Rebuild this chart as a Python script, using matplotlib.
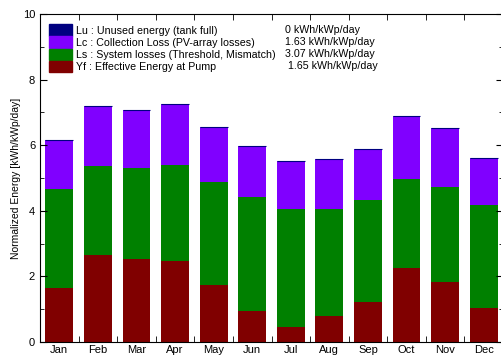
import numpy as np
import matplotlib
matplotlib.use("Agg")
import matplotlib.pyplot as plt
from matplotlib.patches import Patch
from matplotlib.ticker import MultipleLocator

plt.rcParams["font.family"] = ["Liberation Sans", "DejaVu Sans"]

months = ["Jan", "Feb", "Mar", "Apr", "May", "Jun", "Jul", "Aug", "Sep", "Oct", "Nov", "Dec"]
# stacked components, kWh/kWp/day
yf = [1.66, 2.65, 2.53, 2.47, 1.75, 0.95, 0.47, 0.80, 1.23, 2.26, 1.83, 1.04]
ls = [2.99, 2.71, 2.79, 2.92, 3.12, 3.47, 3.60, 3.25, 3.11, 2.71, 2.90, 3.14]
lc = [1.52, 1.82, 1.74, 1.88, 1.67, 1.55, 1.46, 1.52, 1.55, 1.92, 1.78, 1.44]
lu = [0.0] * 12

legend_labels = [
    "Lu : Unused energy (tank full)",
    "Lc : Collection Loss (PV-array losses)",
    "Ls : System losses (Threshold, Mismatch)",
    "Yf : Effective Energy at Pump",
]
legend_values = ["0 kWh/kWp/day", "1.63 kWh/kWp/day", "3.07 kWh/kWp/day", " 1.65 kWh/kWp/day"]

c_lu = "#000080"
c_lc = "#8000ff"
c_ls = "#008000"
c_yf = "#800000"

fig = plt.figure(figsize=(5.02, 3.56), dpi=100)
ax = fig.add_axes([40 / 502, 14 / 356, 463 / 502, 328 / 356])

x = np.arange(len(months))
w = 0.72
yf = np.array(yf)
ls = np.array(ls)
lc = np.array(lc)
lu = np.array(lu)

ax.bar(x, yf, w, color=c_yf, linewidth=0)
ax.bar(x, ls, w, bottom=yf, color=c_ls, linewidth=0)
ax.bar(x, lc, w, bottom=yf + ls, color=c_lc, linewidth=0)
# unused energy is zero: only the cap line shows
ax.bar(x, lu, w, bottom=yf + ls + lc, color=c_lu, edgecolor=c_lu, linewidth=0.8)

ax.set_xlim(-0.5, 11.5)
ax.set_ylim(0, 10)
ax.set_xticks(x)
ax.set_xticklabels(months)
ax.set_xticks(x[:-1] + 0.5, minor=True)
ax.tick_params(axis="x", which="major", length=0, labelsize=8, pad=2)
ax.tick_params(axis="x", which="minor", direction="in", length=4, top=True, bottom=True)
ax.yaxis.set_major_locator(MultipleLocator(2))
ax.yaxis.set_minor_locator(MultipleLocator(1))
ax.tick_params(axis="y", which="both", direction="in", left=True, right=True, labelsize=8)
ax.tick_params(axis="y", which="major", length=5)
ax.tick_params(axis="y", which="minor", length=3)
ax.set_ylabel("Normalized Energy [kWh/kWp/day]", fontsize=7.5, labelpad=1)

handles = [Patch(color=c) for c in (c_lu, c_lc, c_ls, c_yf)]
leg = ax.legend(handles, legend_labels, loc="upper left", bbox_to_anchor=(0.0, 0.995),
                frameon=False, fontsize=7.7, handlelength=2.2, handleheight=1.3,
                handletextpad=0.4, labelspacing=0.05, borderaxespad=0.4)
for i, v in enumerate(legend_values):
    ax.text(285, 356 - (30 + i * 12), v, transform=None, fontsize=7.7, va="center", ha="left")

fig.savefig("out.png", dpi=100)
